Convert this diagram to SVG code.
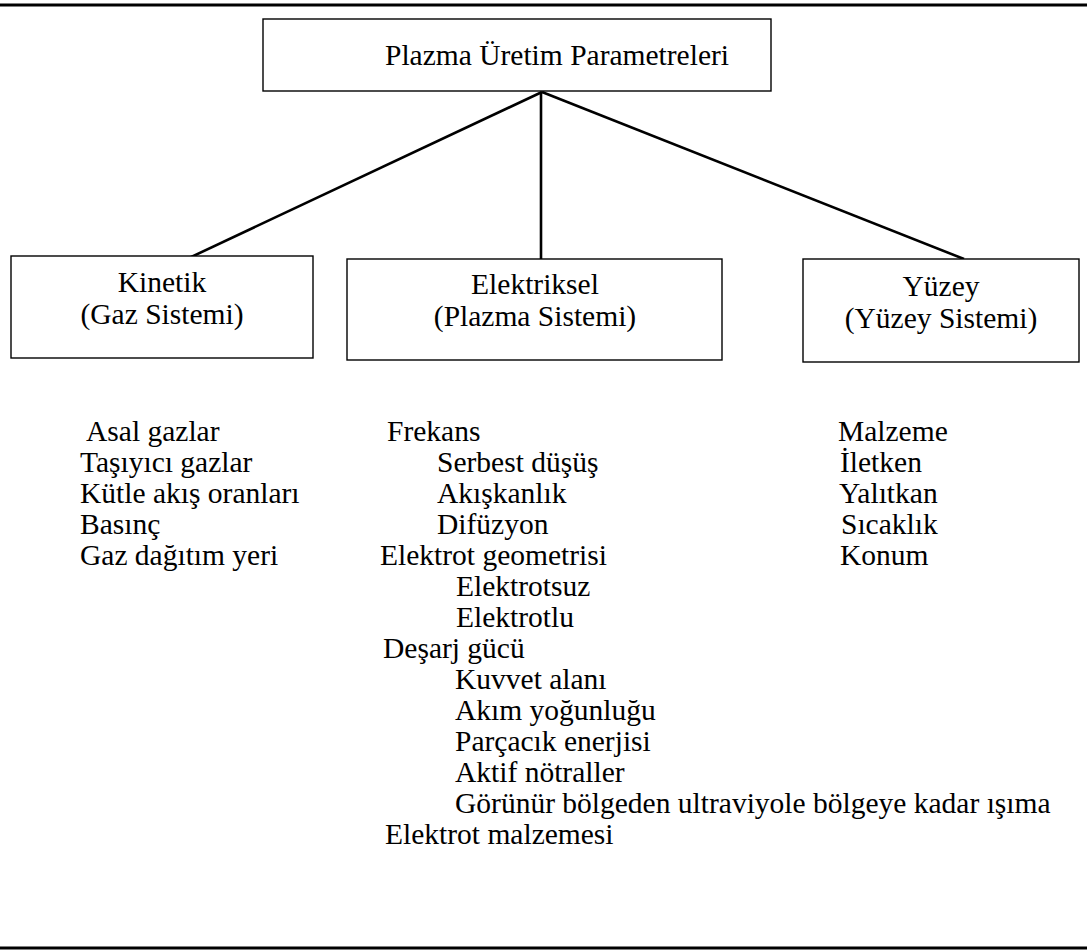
<svg xmlns="http://www.w3.org/2000/svg" width="1087" height="952" viewBox="0 0 1087 952" font-family="'Liberation Serif', 'Times New Roman', 'DejaVu Serif', serif" font-size="29.5">
<style>
text{font-family:'Liberation Serif','Times New Roman','DejaVu Serif',serif;font-size:29.5px;fill:#000}
.c{text-anchor:middle}
.box{fill:#fff;stroke:#000;stroke-width:1.4}
.conn{stroke:#000;stroke-width:2.6;fill:none}
.rule{stroke:#000;stroke-width:3}
</style>
<rect width="1087" height="952" fill="#fff"/>
<line class="rule" x1="0" y1="5" x2="1087" y2="5"/>
<line class="rule" x1="0" y1="948" x2="1087" y2="948"/>
<g id="connectors">
<line class="conn" x1="542" y1="92" x2="189" y2="258"/>
<line class="conn" x1="541" y1="92" x2="541" y2="259"/>
<line class="conn" x1="542" y1="92" x2="964" y2="259"/>
</g>
<g id="root">
<rect class="box" x="263" y="19" width="508" height="72"/>
<text x="385" y="65">Plazma Üretim Parametreleri</text>
</g>
<g id="kinetik">
<rect class="box" x="11" y="256" width="302" height="102"/>
<text class="c" x="162" y="292">Kinetik</text>
<text class="c" x="162" y="324">(Gaz Sistemi)</text>
</g>
<g id="elektriksel">
<rect class="box" x="347" y="259" width="375" height="101"/>
<text class="c" x="535" y="294">Elektriksel</text>
<text class="c" x="535" y="326">(Plazma Sistemi)</text>
</g>
<g id="yuzey">
<rect class="box" x="803" y="259" width="276" height="103"/>
<text class="c" x="941" y="296">Yüzey</text>
<text class="c" x="941" y="328">(Yüzey Sistemi)</text>
</g>
<g id="kinetik-list">
<text x="86" y="441">Asal gazlar</text>
<text x="80" y="472">Taşıyıcı gazlar</text>
<text x="80" y="503">Kütle akış oranları</text>
<text x="80" y="534">Basınç</text>
<text x="80" y="565">Gaz dağıtım yeri</text>
</g>
<g id="elektriksel-list">
<text x="387" y="441">Frekans</text>
<text x="437" y="472">Serbest düşüş</text>
<text x="437" y="503">Akışkanlık</text>
<text x="437" y="534">Difüzyon</text>
<text x="380" y="565">Elektrot geometrisi</text>
<text x="456" y="596">Elektrotsuz</text>
<text x="456" y="627">Elektrotlu</text>
<text x="383" y="658">Deşarj gücü</text>
<text x="455" y="689">Kuvvet alanı</text>
<text x="455" y="720">Akım yoğunluğu</text>
<text x="455" y="751">Parçacık enerjisi</text>
<text x="455" y="782">Aktif nötraller</text>
<text x="455" y="813">Görünür bölgeden ultraviyole bölgeye kadar ışıma</text>
<text x="385" y="844">Elektrot malzemesi</text>
</g>
<g id="yuzey-list">
<text x="838" y="441">Malzeme</text>
<text x="840" y="472">İletken</text>
<text x="839" y="503">Yalıtkan</text>
<text x="841" y="534">Sıcaklık</text>
<text x="840" y="565">Konum</text>
</g>
</svg>
